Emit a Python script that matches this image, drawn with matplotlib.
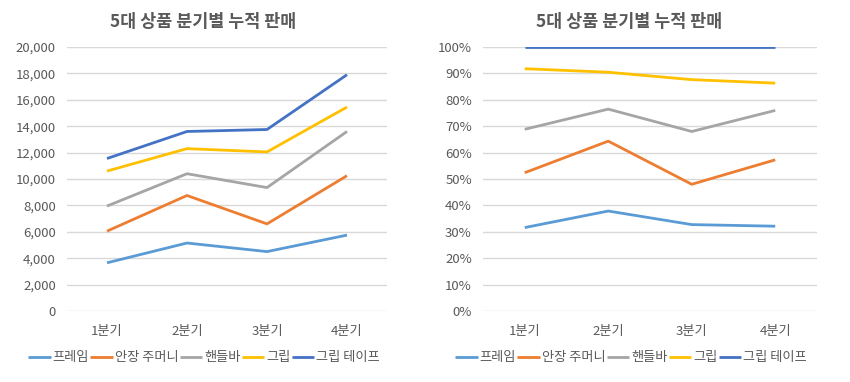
import numpy as np
import matplotlib
matplotlib.use("Agg")
import matplotlib.pyplot as plt
from matplotlib.ticker import FuncFormatter

plt.rcParams['font.family'] = ['Noto Sans CJK KR', 'DejaVu Sans']

# data (per-quarter sales per product)
quarters = ['1분기', '2분기', '3분기', '4분기']
products = ['프레임', '안장 주머니', '핸들바', '그립', '그립 테이프']
frame = [3650, 5150, 4500, 5750]
saddle_bag = [2400, 3600, 2100, 4500]
handlebar = [1900, 1650, 2750, 3350]
grip = [2650, 1900, 2700, 1850]
grip_tape = [950, 1300, 1700, 2450]
colors = ['#5B9BD5', '#ED7D31', '#A5A5A5', '#FFC000', '#4472C4']

title = '5대 상품 분기별 누적 판매'
txt = '#595959'

vals = np.array([frame, saddle_bag, handlebar, grip, grip_tape], dtype=float)
cum = np.cumsum(vals, axis=0)
pct = cum / cum[-1]

fig = plt.figure(figsize=(8.5, 3.82), dpi=100)
W, H = 850, 382

def make_ax(left, right, top, bottom):
    return fig.add_axes([left / W, 1 - bottom / H, (right - left) / W, (bottom - top) / H])

ax1 = make_ax(67, 387, 47, 311)
ax2 = make_ax(483, 817, 47, 311)

x = np.arange(len(quarters))
for ax, data in ((ax1, cum), (ax2, pct)):
    for i, name in enumerate(products):
        ax.plot(x, data[i], color=colors[i], lw=2, label=name,
                solid_capstyle='butt', zorder=3)
    ax.set_xlim(-0.5, len(quarters) - 0.5)
    ax.set_xticks(x)
    ax.set_xticklabels(quarters)
    for s in ax.spines.values():
        s.set_visible(False)
    ax.grid(axis='y', color='#D9D9D9', lw=1)
    ax.set_axisbelow(True)
    ax.tick_params(length=0, colors=txt, labelsize=9.5)
    ax.tick_params(axis='x', pad=10)
    ax.tick_params(axis='y', pad=8)

ax1.set_ylim(0, 20000)
ax1.set_yticks(np.arange(0, 20001, 2000))
ax1.yaxis.set_major_formatter(FuncFormatter(lambda v, p: f'{int(v):,}'))

ax2.set_ylim(0, 1)
ax2.set_yticks(np.linspace(0, 1, 11))
ax2.yaxis.set_major_formatter(FuncFormatter(lambda v, p: f'{v * 100:.0f}%'))

fig.text(203 / W, 1 - 22 / H, title, ha='center', va='center',
         fontsize=12.5, fontweight='bold', color=txt)
fig.text(629 / W, 1 - 22 / H, title, ha='center', va='center',
         fontsize=12.5, fontweight='bold', color=txt)

for ax, cx in ((ax1, 204), (ax2, 631)):
    h, l = ax.get_legend_handles_labels()
    leg = fig.legend(h, l, loc='center', bbox_to_anchor=(cx / W, 1 - 358 / H),
                     ncol=5, frameon=False, fontsize=9.5, handlelength=1.7,
                     handletextpad=0.15, columnspacing=0.1, borderaxespad=0)
    for t in leg.get_texts():
        t.set_color(txt)

fig.savefig('out.png', dpi=100)
